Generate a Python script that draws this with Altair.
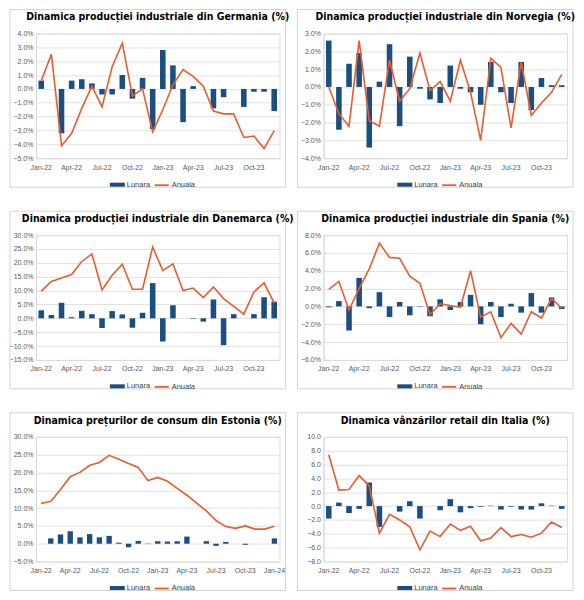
import altair as alt
import pandas as pd

months = ["Jan-22", "Feb-22", "Mar-22", "Apr-22", "May-22", "Jun-22", "Jul-22", "Aug-22",
          "Sep-22", "Oct-22", "Nov-22", "Dec-22", "Jan-23", "Feb-23", "Mar-23", "Apr-23",
          "May-23", "Jun-23", "Jul-23", "Aug-23", "Sep-23", "Oct-23", "Nov-23", "Dec-23"]
months_ee = months + ["Jan-24"]
tick_months = ["Jan-22", "Apr-22", "Jul-22", "Oct-22", "Jan-23", "Apr-23", "Jul-23", "Oct-23"]
tick_months_ee = tick_months + ["Jan-24"]

de_lunara = [0.6, 0.0, -3.2, 0.6, 0.7, 0.4, -0.4, -0.4, 1.0, -0.7, 0.8, -2.9,
             2.8, 1.7, -2.4, 0.2, 0.0, -1.4, -0.6, 0.0, -1.3, -0.2, -0.2, -1.6]
de_anuala = [0.6, 2.5, -4.1, -3.2, -1.4, 0.2, -1.3, 1.6, 3.3, -0.5, 0.0, -3.1,
             -1.5, 0.3, 1.4, 0.9, 0.2, -1.6, -1.8, -1.8, -3.5, -3.4, -4.3, -3.0]

no_lunara = [2.6, -2.4, 1.3, 1.9, -3.4, 0.3, 2.4, -2.2, 1.7, -0.1, -0.7, -0.9,
             1.2, -0.1, -0.3, -1.0, 1.4, -0.3, -0.9, 1.4, -1.3, 0.5, 0.1, 0.1]
no_anuala = [0.0, -1.5, -2.2, 2.6, -1.9, -2.2, 1.5, -0.8, -0.1, 1.9, -0.2, 0.3,
             -0.8, 1.5, -0.3, -3.0, 1.6, 1.1, -2.3, 1.4, -1.6, -0.9, -0.3, 0.7]

dk_lunara = [2.9, 1.2, 5.6, 0.4, 2.7, 1.5, -3.5, 2.6, 1.4, -3.4, 2.0, 12.7,
             -8.4, 4.7, 0.0, -0.2, -1.2, 6.8, -9.7, 1.5, 0.0, 1.5, 7.6, 6.0]
dk_anuala = [9.8, 13.3, 14.5, 15.8, 20.5, 23.2, 10.2, 15.5, 19.5, 10.5, 10.5, 25.7,
             17.2, 19.6, 10.0, 10.9, 7.5, 11.3, 7.1, 4.3, 1.5, 9.5, 12.8, 5.5]

es_lunara = [-0.1, 0.6, -2.7, 3.2, -0.2, 1.6, -1.2, 0.5, -1.0, 0.05, -1.1, 0.8,
             -0.4, 0.5, 1.3, -2.0, 0.5, -1.2, 0.3, -0.7, 1.5, -0.7, 1.0, -0.3]
es_anuala = [1.9, 2.8, -0.4, 2.0, 4.2, 7.1, 5.5, 5.4, 3.4, 2.6, -0.9, 0.3,
             0.1, -0.1, 4.0, -1.2, -0.6, -3.5, -1.9, -3.1, -0.6, -1.3, 0.9, -0.2]

ee_lunara = [0.0, 1.5, 2.6, 3.5, 1.8, 2.7, 1.8, 2.2, 0.3, -1.0, 0.8, -0.1,
             0.7, 0.6, 0.7, 2.0, 0.0, 0.7, -0.6, 0.5, 0.0, -0.3, 0.0, 0.0, 1.5]
ee_anuala = [11.3, 11.9, 15.2, 18.8, 20.0, 22.0, 22.8, 24.8, 23.7, 22.5, 21.4, 17.7,
             18.6, 17.5, 15.5, 13.6, 11.4, 9.2, 6.5, 4.8, 4.3, 5.0, 4.1, 4.1, 4.9]

it_lunara = [-1.8, 0.5, -1.0, -0.4, 3.4, -3.0, 0.0, -0.8, 0.7, -1.8, 0.0, -0.6,
             1.0, -0.9, -0.3, -0.1, 0.05, -0.5, -0.1, -0.5, -0.5, 0.4, 0.05, -0.4]
it_anuala = [7.4, 2.3, 2.4, 4.4, 2.9, -3.9, -1.2, -2.0, -3.0, -6.3, -3.6, -4.4,
             -2.6, -3.5, -2.9, -5.0, -4.6, -3.1, -4.4, -4.1, -4.5, -3.9, -2.3, -3.1]

series_names = ["Lunara", "Anuala"]

BLUE = "#1B4F80"
ORANGE = "#EC5B2D"
FRAME = "#D4D4D4"
TITLE_FONT = "'DejaVu Sans Condensed', 'Roboto Condensed', Roboto, sans-serif"
FONT = "Liberation Sans"
W, H = 244, 125


def panel(title, cats, ticks, lunara, anuala, ydomain, yticks, pct=True):
    df = pd.DataFrame({
        "luna": cats + cats,
        "serie": [series_names[0]] * len(cats) + [series_names[1]] * len(cats),
        "valoare": lunara + anuala,
    })
    label_expr = "format(datum.value, '.1f') + '%'" if pct else "format(datum.value, '.1f')"
    x = alt.X("luna:N", sort=cats, title=None,
              scale=alt.Scale(paddingInner=0.45, paddingOuter=0.25),
              axis=alt.Axis(values=ticks, labelAngle=0, ticks=False, domain=False, grid=False,
                            labelFontSize=7, labelColor="#595959", labelFont=FONT, labelPadding=5))
    y = alt.Y("valoare:Q", title=None,
              scale=alt.Scale(domain=ydomain, nice=False, zero=False),
              axis=alt.Axis(values=yticks, labelExpr=label_expr, ticks=False, domain=True,
                            domainColor="#D9D9D9", gridColor="#D9D9D9", gridWidth=0.8,
                            labelFontSize=7, labelColor="#595959", labelFont=FONT, labelPadding=3))
    fill = alt.Fill("serie:N", title=None,
                    scale=alt.Scale(domain=[series_names[0]], range=[BLUE]),
                    legend=alt.Legend(orient="none", legendX=74, legendY=H + 19,
                                      symbolType="M-1,-0.27H1V0.27H-1Z", symbolSize=225,
                                      symbolStrokeWidth=0,
                                      labelFontSize=7.5, labelColor="#404040", labelFont=FONT,
                                      labelOffset=2))
    stroke = alt.Stroke("serie:N", title=None,
                        scale=alt.Scale(domain=[series_names[1]], range=[ORANGE]),
                        legend=alt.Legend(orient="none", legendX=118, legendY=H + 19,
                                          symbolType="stroke", symbolSize=200,
                                          symbolStrokeWidth=1.8,
                                          labelFontSize=7.5, labelColor="#404040", labelFont=FONT,
                                          labelOffset=2))
    base = alt.Chart(df)
    frame = base.transform_aggregate(n="count()").mark_rect(
        fill="transparent", stroke=FRAME, strokeWidth=1
    ).encode(x=alt.value(-26), x2=alt.value(W + 6), y=alt.value(-24), y2=alt.value(H + 29))
    bars = base.transform_filter("datum.serie === 'Lunara'").mark_bar().encode(
        x=x, y=y, fill=fill)
    line = base.transform_filter("datum.serie === 'Anuala'").mark_line(strokeWidth=1.6).encode(
        x=x, y=y, stroke=stroke)
    return alt.layer(frame, bars, line).properties(
        width=W, height=H,
        title=alt.Title(title, font=TITLE_FONT, fontSize=10.5, fontWeight="bold", color="#000000",
                        anchor="middle", offset=-14))


p1 = panel("Dinamica producției industriale din Germania (%)", months, tick_months,
           de_lunara, de_anuala, [-5, 4], [-5, -4, -3, -2, -1, 0, 1, 2, 3, 4])
p2 = panel("Dinamica producției industriale din Norvegia (%)", months, tick_months,
           no_lunara, no_anuala, [-4, 3], [-4, -3, -2, -1, 0, 1, 2, 3])
p3 = panel("Dinamica producției industriale din Danemarca (%)", months, tick_months,
           dk_lunara, dk_anuala, [-15, 30], [-15, -10, -5, 0, 5, 10, 15, 20, 25, 30])
p4 = panel("Dinamica producției industriale din Spania (%)", months, tick_months,
           es_lunara, es_anuala, [-6, 8], [-6, -4, -2, 0, 2, 4, 6, 8])
p5 = panel("Dinamica prețurilor de consum din Estonia (%)", months_ee, tick_months_ee,
           ee_lunara, ee_anuala, [-5, 30], [-5, 0, 5, 10, 15, 20, 25, 30])
p6 = panel("Dinamica vânzărilor retail din Italia (%)", months, tick_months,
           it_lunara, it_anuala, [-8, 10], [-8, -6, -4, -2, 0, 2, 4, 6, 8, 10], pct=False)

chart = alt.concat(p1, p2, p3, p4, p5, p6, columns=2, bounds="flush",
                   spacing={"column": 44, "row": 77}).resolve_scale(
    fill="independent", stroke="independent"
).resolve_legend(
    fill="independent", stroke="independent"
).configure_view(
    stroke=None
).configure(padding={"left": 0, "top": 0, "right": 0, "bottom": 0}, background="white")

chart.save("out.html", embed_options={"renderer": "svg", "actions": False})
